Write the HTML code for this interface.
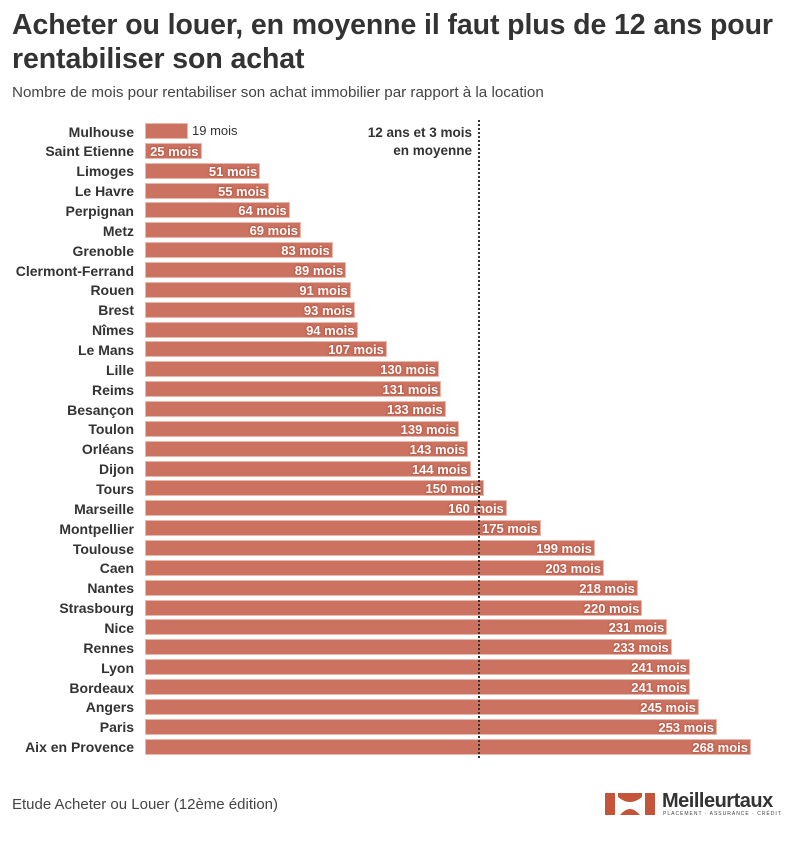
<!DOCTYPE html>
<html><head><meta charset="utf-8"><style>
body{margin:0;width:794px;height:842px;background:#fff;font-family:"Liberation Sans",sans-serif;position:relative;overflow:hidden;color:#333}
h1{position:absolute;left:12px;top:8px;margin:0;font-size:28.5px;line-height:34px;font-weight:bold;color:#333;letter-spacing:-0.1px}
.sub{position:absolute;left:12px;top:84px;font-size:15.2px;color:#444}
#rows{position:absolute;left:0;top:121px;width:794px}
.r{height:19.87px;position:relative}
.l{position:absolute;right:660px;top:1.5px;line-height:19.87px;font-size:14px;font-weight:bold;color:#333;white-space:nowrap}
.b{position:absolute;left:145px;top:2px;height:16px;background:#cb7260;box-sizing:border-box;border:1px solid #e8b8ad}
.v{position:absolute;right:2px;top:0;line-height:15px;font-size:13px;font-weight:bold;color:#fff;white-space:nowrap;text-shadow:0 0 2px #b5503d,0 0 2px #b5503d}
.o{position:absolute;left:192px;top:0;line-height:19.87px;font-size:13px;color:#333}
.dl{position:absolute;left:478px;top:120px;height:638px;border-left:2px dotted #333}
.ann{position:absolute;right:322px;top:124px;text-align:right;font-size:13.5px;font-weight:bold;line-height:18px;color:#333}
.foot{position:absolute;left:12px;top:796px;font-size:15px;color:#444}
</style></head><body>
<h1>Acheter ou louer, en moyenne il faut plus de 12 ans pour<br>rentabiliser son achat</h1>
<div class="sub">Nombre de mois pour rentabiliser son achat immobilier par rapport à la location</div>
<div id="rows">
<div class="r"><span class="l">Mulhouse</span><div class="b" style="width:43px"></div><span class="o">19 mois</span></div>
<div class="r"><span class="l">Saint Etienne</span><div class="b" style="width:56.5px"><span class="v">25 mois</span></div></div>
<div class="r"><span class="l">Limoges</span><div class="b" style="width:115.3px"><span class="v">51 mois</span></div></div>
<div class="r"><span class="l">Le Havre</span><div class="b" style="width:124.4px"><span class="v">55 mois</span></div></div>
<div class="r"><span class="l">Perpignan</span><div class="b" style="width:144.7px"><span class="v">64 mois</span></div></div>
<div class="r"><span class="l">Metz</span><div class="b" style="width:156px"><span class="v">69 mois</span></div></div>
<div class="r"><span class="l">Grenoble</span><div class="b" style="width:187.7px"><span class="v">83 mois</span></div></div>
<div class="r"><span class="l">Clermont-Ferrand</span><div class="b" style="width:201.2px"><span class="v">89 mois</span></div></div>
<div class="r"><span class="l">Rouen</span><div class="b" style="width:205.8px"><span class="v">91 mois</span></div></div>
<div class="r"><span class="l">Brest</span><div class="b" style="width:210.3px"><span class="v">93 mois</span></div></div>
<div class="r"><span class="l">Nîmes</span><div class="b" style="width:212.5px"><span class="v">94 mois</span></div></div>
<div class="r"><span class="l">Le Mans</span><div class="b" style="width:241.9px"><span class="v">107 mois</span></div></div>
<div class="r"><span class="l">Lille</span><div class="b" style="width:293.9px"><span class="v">130 mois</span></div></div>
<div class="r"><span class="l">Reims</span><div class="b" style="width:296.2px"><span class="v">131 mois</span></div></div>
<div class="r"><span class="l">Besançon</span><div class="b" style="width:300.7px"><span class="v">133 mois</span></div></div>
<div class="r"><span class="l">Toulon</span><div class="b" style="width:314.3px"><span class="v">139 mois</span></div></div>
<div class="r"><span class="l">Orléans</span><div class="b" style="width:323.3px"><span class="v">143 mois</span></div></div>
<div class="r"><span class="l">Dijon</span><div class="b" style="width:325.6px"><span class="v">144 mois</span></div></div>
<div class="r"><span class="l">Tours</span><div class="b" style="width:339.2px"><span class="v">150 mois</span></div></div>
<div class="r"><span class="l">Marseille</span><div class="b" style="width:361.8px"><span class="v">160 mois</span></div></div>
<div class="r"><span class="l">Montpellier</span><div class="b" style="width:395.7px"><span class="v">175 mois</span></div></div>
<div class="r"><span class="l">Toulouse</span><div class="b" style="width:449.9px"><span class="v">199 mois</span></div></div>
<div class="r"><span class="l">Caen</span><div class="b" style="width:459px"><span class="v">203 mois</span></div></div>
<div class="r"><span class="l">Nantes</span><div class="b" style="width:492.9px"><span class="v">218 mois</span></div></div>
<div class="r"><span class="l">Strasbourg</span><div class="b" style="width:497.4px"><span class="v">220 mois</span></div></div>
<div class="r"><span class="l">Nice</span><div class="b" style="width:522.3px"><span class="v">231 mois</span></div></div>
<div class="r"><span class="l">Rennes</span><div class="b" style="width:526.8px"><span class="v">233 mois</span></div></div>
<div class="r"><span class="l">Lyon</span><div class="b" style="width:544.9px"><span class="v">241 mois</span></div></div>
<div class="r"><span class="l">Bordeaux</span><div class="b" style="width:544.9px"><span class="v">241 mois</span></div></div>
<div class="r"><span class="l">Angers</span><div class="b" style="width:553.9px"><span class="v">245 mois</span></div></div>
<div class="r"><span class="l">Paris</span><div class="b" style="width:572px"><span class="v">253 mois</span></div></div>
<div class="r"><span class="l">Aix en Provence</span><div class="b" style="width:606px"><span class="v">268 mois</span></div></div>
</div>
<div class="dl"></div>
<div class="ann">12 ans et 3 mois<br>en moyenne</div>
<div class="foot">Etude Acheter ou Louer (12ème édition)</div>
<svg style="position:absolute;left:605px;top:793px" width="50" height="22" viewBox="0 0 50 22">
<rect x="0" y="0" width="10" height="22" fill="#c4543a"/>
<rect x="40" y="0" width="10" height="22" fill="#c4543a"/>
<path d="M13 0 H37 V4 Q25 14 13 4 Z" fill="#c4543a"/>
<path d="M15 22 Q25 10 35 22 Z" fill="#c4543a"/>
</svg>
<div style="position:absolute;left:662px;top:790px;font-size:20px;font-weight:bold;color:#333;letter-spacing:-0.5px">Meilleurtaux</div>
<div style="position:absolute;left:663px;top:811px;font-size:5px;color:#444;letter-spacing:1px">PLACEMENT · ASSURANCE · CRÉDIT</div>
</body></html>
